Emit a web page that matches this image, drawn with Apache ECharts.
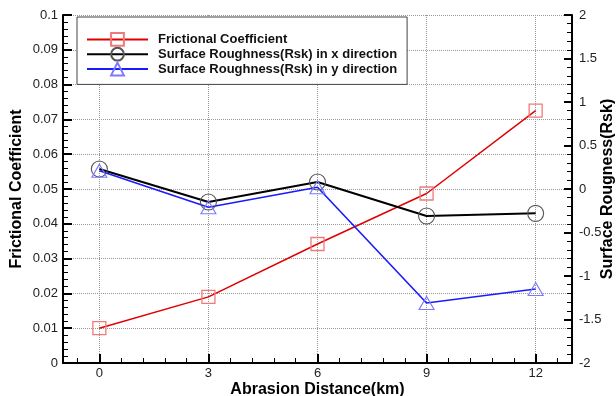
<!DOCTYPE html>
<html><head><meta charset="utf-8">
<script src="https://cdn.jsdelivr.net/npm/echarts@6/dist/echarts.min.js"></script>
<style>html,body{margin:0;padding:0;background:#fff}#c{width:616px;height:396px}</style>
</head><body><div id="c"></div>
<script>
const distances = [0, 3, 6, 9, 12];
const frictionalCoefficient = [0.010, 0.019, 0.0342, 0.0487, 0.0725];
const rskX = [0.23, -0.15, 0.08, -0.31, -0.28];
const rskY = [0.21, -0.21, 0.02, -1.31, -1.15];
const xTickLabels = [0, 3, 6, 9, 12];
const seriesNames = ['Frictional Coefficient', 'Surface Roughness(Rsk) in x direction', 'Surface Roughness(Rsk) in y direction'];
const xAxisName = 'Abrasion Distance(km)';
const leftAxisName = 'Frictional Coefficient';
const rightAxisName = 'Surface Rougness(Rsk)';

const FONT = "'Liberation Sans', Arial, sans-serif";
const xMinor = [];
for (let i = -1; i <= 21; i++) { if (i % 5 !== 0) xMinor.push(+(i * 0.6).toFixed(2)); }
const pairs = (ys) => distances.map((x, i) => [x, ys[i]]);

const chart = echarts.init(document.getElementById('c'), null, {renderer: 'canvas'});
const axisLine = {show: true, onZero: false, lineStyle: {color: '#000', width: 2}};
chart.setOption({
  backgroundColor: '#fff',
  animation: false,
  textStyle: {fontFamily: FONT},
  grid: {left: 63, right: 44, top: 15, bottom: 33, containLabel: false, outerBoundsMode: 'none'},
  legend: {
    orient: 'vertical', left: 77, top: 17,
    backgroundColor: '#fff', borderColor: '#444', borderWidth: 1,
    padding: [15, 10, 8, 9], itemGap: 0, itemWidth: 61, itemHeight: 16,
    textStyle: {fontFamily: FONT, fontSize: 13, fontWeight: 'bold', color: '#111', padding: [0, 0, 0, 5]},
    data: seriesNames
  },
  xAxis: [{
    type: 'value', min: -1, max: 13,
    name: xAxisName, nameLocation: 'middle', nameGap: 19, nameMoveOverlap: false,
    nameTextStyle: {fontFamily: FONT, fontSize: 16, fontWeight: 'bold', color: '#000'},
    axisLine: axisLine,
    axisTick: {show: true, inside: true, length: 9, lineStyle: {color: '#000', width: 2}, customValues: xTickLabels},
    axisLabel: {customValues: xTickLabels, fontFamily: FONT, fontSize: 13, color: '#222', margin: 4},
    splitLine: {show: true, lineStyle: {type: 'dotted', color: '#999', width: 1}},
    minorTick: {show: false}
  }, {
    type: 'value', min: -1, max: 13, position: 'bottom',
    axisLine: {show: false},
    axisTick: {show: true, inside: true, length: 5, lineStyle: {color: '#000', width: 1}, customValues: xMinor},
    axisLabel: {show: false},
    splitLine: {show: false}
  }],
  yAxis: [{
    type: 'value', min: 0, max: 0.1, interval: 0.01, position: 'left',
    name: leftAxisName, nameLocation: 'middle', nameGap: 38, nameMoveOverlap: false,
    nameTextStyle: {fontFamily: FONT, fontSize: 16, fontWeight: 'bold', color: '#000'},
    axisLine: axisLine,
    axisTick: {show: true, inside: true, length: 9, lineStyle: {color: '#000', width: 2}},
    minorTick: {show: true, splitNumber: 5, length: 5, lineStyle: {color: '#000', width: 1}},
    axisLabel: {fontFamily: FONT, fontSize: 13, color: '#222', margin: 5},
    splitLine: {show: true, lineStyle: {type: 'dotted', color: '#999', width: 1}}
  }, {
    type: 'value', min: -2, max: 2, interval: 0.5, position: 'right',
    name: rightAxisName, nameLocation: 'middle', nameGap: 28, nameMoveOverlap: false,
    nameTextStyle: {fontFamily: FONT, fontSize: 16, fontWeight: 'bold', color: '#000'},
    axisLine: axisLine,
    axisTick: {show: true, inside: true, length: 8, lineStyle: {color: '#000', width: 2}},
    minorTick: {show: true, splitNumber: 5, length: 5, lineStyle: {color: '#000', width: 1}},
    axisLabel: {fontFamily: FONT, fontSize: 13, color: '#222', margin: 7},
    splitLine: {show: false}
  }],
  series: [{
    name: seriesNames[0], type: 'line', xAxisIndex: 0, yAxisIndex: 0,
    data: pairs(frictionalCoefficient),
    symbol: 'rect', symbolSize: 13,
    lineStyle: {color: '#e00000', width: 1.5},
    itemStyle: {color: 'rgba(255,255,255,0)', borderColor: '#f07a7a', borderWidth: 1.3}
  }, {
    name: seriesNames[1], type: 'line', xAxisIndex: 0, yAxisIndex: 1,
    data: pairs(rskX),
    symbol: 'circle', symbolSize: 16,
    lineStyle: {color: '#000', width: 2},
    itemStyle: {color: 'rgba(255,255,255,0)', borderColor: '#555', borderWidth: 1.1}
  }, {
    name: seriesNames[2], type: 'line', xAxisIndex: 0, yAxisIndex: 1,
    data: pairs(rskY),
    symbol: 'triangle', symbolSize: [15, 13],
    lineStyle: {color: '#1a1aff', width: 1.6},
    itemStyle: {color: 'rgba(255,255,255,0)', borderColor: '#7a7aff', borderWidth: 1.1}
  }]
});
</script></body></html>
